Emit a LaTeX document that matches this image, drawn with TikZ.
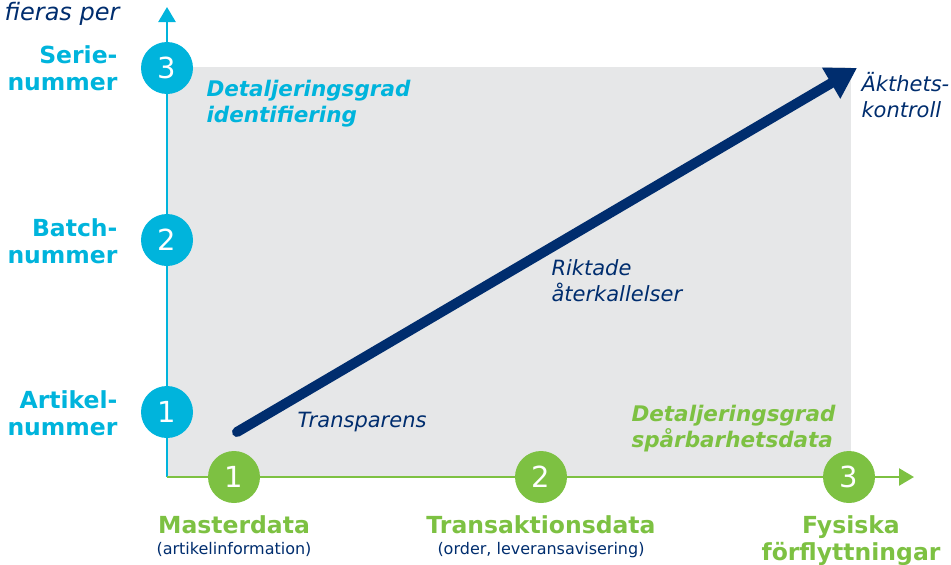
\documentclass[tikz,border=0pt]{standalone}
\usepackage{fontspec}
\setmainfont{DejaVu Sans}
\usetikzlibrary{arrows.meta}
\definecolor{idblue}{RGB}{0,180,220}
\definecolor{trgreen}{RGB}{125,193,66}
\definecolor{navy}{RGB}{0,45,110}
\definecolor{panel}{RGB}{230,231,232}

\begin{document}
\begin{tikzpicture}[x=1pt, y=-1pt,
		idnum/.style={circle, fill=idblue, minimum size=52pt, inner sep=0pt, text=white, font=\fontsize{29}{29}\selectfont},
		trnum/.style={idnum, fill=trgreen},
		idlabel/.style={anchor=east, align=right, text=idblue, font=\fontsize{23.5}{27}\selectfont\bfseries},
		trlabel/.style={anchor=north, align=center, text=trgreen, font=\fontsize{23.5}{27}\selectfont\bfseries},
		sublabel/.style={anchor=north, text=navy, font=\fontsize{16}{18}\selectfont},
		gradtext/.style={anchor=west, align=left, font=\fontsize{21.5}{26}\selectfont\bfseries\itshape},
		usetext/.style={anchor=west, align=left, text=navy, font=\fontsize{21}{26}\selectfont\itshape}]
		%%%%% START %%%%%
		
		\useasboundingbox (0, 0) rectangle (951, 565);
		\fill[panel] (167, 67) rectangle (851, 477);
		
		% axes
		\coordinate (origin) at (167, 477);
		\coordinate (ytop) at (167, 7);
		\coordinate (xend) at (914, 477);
		\draw[line width=2.5pt, idblue, -{Triangle[length=15pt, width=17pt]}] (origin) -- (ytop);
		\draw[line width=2.5pt, trgreen, -{Triangle[length=15pt, width=17pt]}] (origin) -- (xend);
		
		\node[anchor=east, text=navy, font=\fontsize{24}{28}\selectfont\itshape] (title) at (123, 14) {fieras per};
		
		% identification level
		\node[idnum] (c3) at (167, 68) {3};
		\node[idnum] (c2) at (167, 240) {2};
		\node[idnum] (c1) at (167, 412) {1};
		\node[idlabel] (serie) at (121, 68) {Serie-\\nummer};
		\node[idlabel] (batch) at (121, 241) {Batch-\\nummer};
		\node[idlabel] (artikel) at (121, 413) {Artikel-\\nummer};
		
		% traceability data
		\node[trnum] (g1) at (234, 477) {1};
		\node[trnum] (g2) at (541, 477) {2};
		\node[trnum] (g3) at (849, 477) {3};
		\node[trlabel] (master) at (234, 512) {Masterdata};
		\node[sublabel] at ([yshift=-2pt]master.south) {(artikelinformation)};
		\node[trlabel] (trans) at (541, 512) {Transaktionsdata};
		\node[sublabel] at ([yshift=-2pt]trans.south) {(order, leveransavisering)};
		\node[trlabel] (fysisk) at (851, 512) {Fysiska\\förflyttningar};
		
		\node[gradtext, text=idblue] (gradid) at (203, 104) {Detaljeringsgrad\\identifiering};
		\node[gradtext, text=trgreen] (gradtr) at (628, 429) {Detaljeringsgrad\\spårbarhetsdata};
		
		% main trend
		\coordinate (low) at (237, 432);
		\coordinate (high) at (857, 68);
		\draw[line width=10pt, navy, line cap=round, -{Triangle[length=30pt, width=34pt]}] (low) -- (high);
		
		\node[usetext] (transp) at (294, 422) {Transparens};
		\node[usetext] (recall) at (548, 281) {Riktade\\återkallelser};
		\node[usetext] (akthet) at (858, 95) {Äkthets-\\kontroll};
		
		%%%%% END %%%%%
\end{tikzpicture}
\end{document}
